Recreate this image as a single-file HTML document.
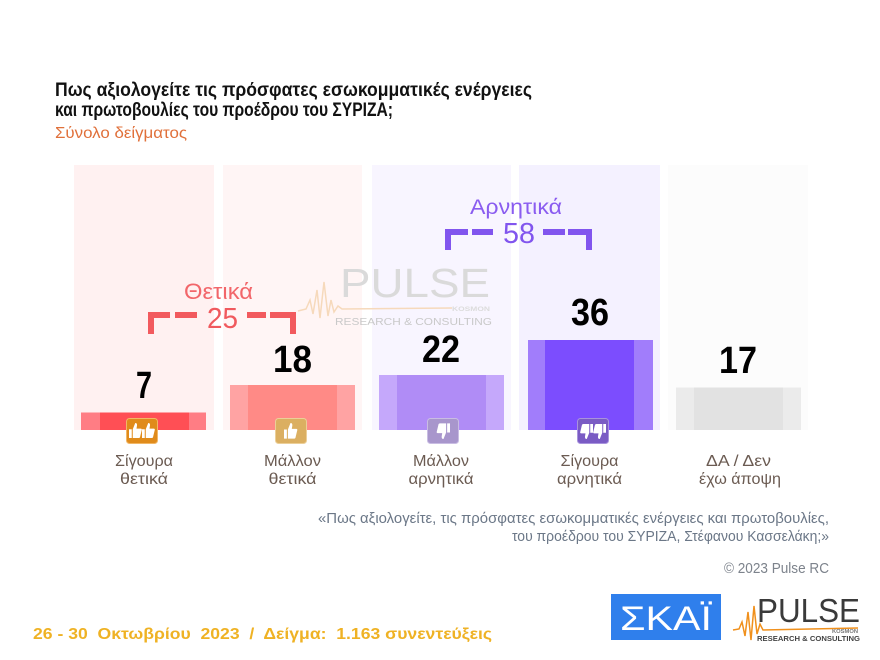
<!DOCTYPE html>
<html><head><meta charset="utf-8"><style>
html,body{margin:0;padding:0;background:#fff;}
svg{display:block;}
</style></head><body>
<svg width="880" height="660" viewBox="0 0 880 660" xmlns="http://www.w3.org/2000/svg" font-family="'Liberation Sans', 'Noto Sans CJK SC', sans-serif">
<rect width="880" height="660" fill="#ffffff"/>

<!-- Title -->
<text x="55" y="96" font-size="19" font-weight="bold" fill="#111" textLength="477" lengthAdjust="spacingAndGlyphs">Πως αξιολογείτε τις πρόσφατες εσωκομματικές ενέργειες</text>
<text x="55" y="116" font-size="19" font-weight="bold" fill="#111" textLength="338" lengthAdjust="spacingAndGlyphs">και πρωτοβουλίες του προέδρου του ΣΥΡΙΖΑ;</text>
<text x="55" y="138" font-size="16" fill="#e0703a" textLength="132" lengthAdjust="spacingAndGlyphs">Σύνολο δείγματος</text>

<!-- Panels -->
<rect x="74" y="165" width="140" height="265" fill="#fff1f1"/>
<rect x="223" y="165" width="139" height="265" fill="#fff5f5"/>
<rect x="372" y="165" width="139" height="265" fill="#f8f5ff"/>
<rect x="519" y="165" width="141" height="265" fill="#f4f1ff"/>
<rect x="668" y="165" width="140" height="265" fill="#fcfcfc"/>

<!-- Watermark -->
<polyline points="298,311 306,309 310,300 313,314 317,290 320,318 324,282 328,316 331,300 334,312 338,306 342,309 452,308" fill="none" stroke="#f6d9bb" stroke-width="1.5"/>
<text x="340" y="297" font-size="41" fill="#dadada" textLength="150" lengthAdjust="spacingAndGlyphs">PULSE</text>
<text x="452" y="311" font-size="6.5" font-weight="bold" fill="#dcdcdc" textLength="38" lengthAdjust="spacingAndGlyphs">KOSMON</text>
<text x="335" y="325" font-size="10" fill="#c9c9c9" textLength="157" lengthAdjust="spacingAndGlyphs">RESEARCH &amp; CONSULTING</text>

<!-- Bars -->
<rect x="81" y="412.5" width="125" height="17.5" fill="#ff7d84"/>
<rect x="100" y="412.5" width="89" height="17.5" fill="#ff4f55"/>

<rect x="230" y="385" width="125" height="45" fill="#ffa3a3"/>
<rect x="248" y="385" width="89" height="45" fill="#ff8a86"/>

<rect x="379" y="375" width="125" height="55" fill="#c5a8fb"/>
<rect x="397" y="375" width="89" height="55" fill="#b08cf6"/>

<rect x="528" y="340" width="125" height="90" fill="#a17dfb"/>
<rect x="545" y="340" width="89" height="90" fill="#7c4dfe"/>

<rect x="676" y="387.5" width="125" height="42.5" fill="#ebebeb"/>
<rect x="694" y="387.5" width="89" height="42.5" fill="#e2e2e2"/>

<!-- Values -->
<g font-size="38" font-weight="bold" fill="#000" text-anchor="middle">
<text x="144" y="398" textLength="16" lengthAdjust="spacingAndGlyphs">7</text>
<text x="292.5" y="372" textLength="39" lengthAdjust="spacingAndGlyphs">18</text>
<text x="441" y="362" textLength="38" lengthAdjust="spacingAndGlyphs">22</text>
<text x="590" y="325" textLength="38" lengthAdjust="spacingAndGlyphs">36</text>
<text x="738" y="373" textLength="38" lengthAdjust="spacingAndGlyphs">17</text>
</g>

<!-- Positive bracket -->
<g fill="#f25a5e">
<rect x="148" y="312" width="6" height="22"/>
<rect x="148" y="312" width="22" height="6"/>
<rect x="175" y="312" width="22" height="6"/>
<rect x="247" y="312" width="19" height="6"/>
<rect x="270" y="312" width="26" height="6"/>
<rect x="290" y="312" width="6" height="22"/>
</g>
<text x="218.5" y="299" font-size="22" fill="#f2666a" text-anchor="middle" textLength="69" lengthAdjust="spacingAndGlyphs">Θετικά</text>
<text x="222.5" y="328" font-size="29" fill="#f05a5e" text-anchor="middle" textLength="31" lengthAdjust="spacingAndGlyphs">25</text>

<!-- Negative bracket -->
<g fill="#8155ee">
<rect x="445" y="229" width="6" height="21"/>
<rect x="445" y="229" width="23" height="6"/>
<rect x="472" y="229" width="21" height="6"/>
<rect x="543" y="229" width="22" height="6"/>
<rect x="568" y="229" width="24" height="6"/>
<rect x="586" y="229" width="6" height="21"/>
</g>
<text x="516" y="214" font-size="21" fill="#8a5cf0" text-anchor="middle" textLength="92" lengthAdjust="spacingAndGlyphs">Αρνητικά</text>
<text x="519" y="243" font-size="29" fill="#8155ee" text-anchor="middle" textLength="32" lengthAdjust="spacingAndGlyphs">58</text>

<!-- Icons -->
<defs>
<path id="tu" d="M0,5 h2.2 v7 h-2.2 z M3,5 L5,0 Q6.6,0 6.4,2 L6,4.5 H9.6 Q10.6,4.8 10.1,6 L8.8,11.4 Q8.5,12 7.8,12 H3 Z" fill="#fff"/>
</defs>
<rect x="126.5" y="418.5" width="31" height="25" rx="3" fill="#e08b1b" stroke="#f2b766" stroke-width="1"/>
<use href="#tu" transform="translate(129,423) scale(1.25)"/>
<use href="#tu" transform="translate(142,423) scale(1.25)"/>

<rect x="275.5" y="418.5" width="31" height="25" rx="3" fill="#dbaf61" stroke="#eccf98" stroke-width="1"/>
<use href="#tu" transform="translate(284,423) scale(1.3)"/>

<rect x="427.5" y="418.5" width="31" height="25" rx="3" fill="#a896cc" stroke="#c9bde3" stroke-width="1"/>
<use href="#tu" transform="translate(450,439) scale(-1.3,-1.3)"/>

<rect x="577.5" y="418.5" width="31" height="25" rx="3" fill="#7a5bc4" stroke="#a893dd" stroke-width="1"/>
<use href="#tu" transform="translate(593,439) scale(-1.25,-1.25)"/>
<use href="#tu" transform="translate(606,439) scale(-1.25,-1.25)"/>

<!-- Category labels -->
<g font-size="16" fill="#6b5b52" text-anchor="middle">
<text x="144" y="466" textLength="58" lengthAdjust="spacingAndGlyphs">Σίγουρα</text>
<text x="144" y="484" textLength="48" lengthAdjust="spacingAndGlyphs">θετικά</text>
<text x="292.5" y="466" textLength="57" lengthAdjust="spacingAndGlyphs">Μάλλον</text>
<text x="292.5" y="484" textLength="48" lengthAdjust="spacingAndGlyphs">θετικά</text>
<text x="441" y="466" textLength="56" lengthAdjust="spacingAndGlyphs">Μάλλον</text>
<text x="441" y="484" textLength="65" lengthAdjust="spacingAndGlyphs">αρνητικά</text>
<text x="589.5" y="466" textLength="58" lengthAdjust="spacingAndGlyphs">Σίγουρα</text>
<text x="589.5" y="484" textLength="65" lengthAdjust="spacingAndGlyphs">αρνητικά</text>
<text x="738.5" y="466" textLength="65" lengthAdjust="spacingAndGlyphs">ΔΑ / Δεν</text>
<text x="740" y="484" textLength="82" lengthAdjust="spacingAndGlyphs">έχω άποψη</text>
</g>

<!-- Footnote -->
<text x="829" y="523" font-size="14.5" fill="#6b7787" text-anchor="end" textLength="511" lengthAdjust="spacingAndGlyphs">«Πως αξιολογείτε, τις πρόσφατες εσωκομματικές ενέργειες και πρωτοβουλίες,</text>
<text x="829" y="541" font-size="14.5" fill="#6b7787" text-anchor="end" textLength="317" lengthAdjust="spacingAndGlyphs">του προέδρου του ΣΥΡΙΖΑ, Στέφανου Κασσελάκη;»</text>
<text x="829" y="573" font-size="14.5" fill="#7d838c" text-anchor="end" textLength="105" lengthAdjust="spacingAndGlyphs">© 2023 Pulse RC</text>

<!-- Date -->
<text x="33" y="639" font-size="16" font-weight="bold" fill="#efb224" textLength="459" lengthAdjust="spacingAndGlyphs" style="white-space:pre">26 - 30  Οκτωβρίου  2023  /  Δείγμα:  1.163 συνεντεύξεις</text>

<!-- SKAI logo -->
<rect x="611" y="594" width="110" height="46" fill="#2f7fec"/>
<text x="666" y="630" font-size="34" fill="#ffffff" text-anchor="middle" textLength="92" lengthAdjust="spacingAndGlyphs">ΣΚΑΪ</text>

<!-- PULSE logo -->
<polyline points="733,630 739,629 742,622 745,636 748,612 751,640 754,606 757,634 760,624 763,630 858,628" fill="none" stroke="#f0901c" stroke-width="1.5"/>
<text x="757" y="622" font-size="33" fill="#3a3a3a" textLength="103" lengthAdjust="spacingAndGlyphs">PULSE</text>
<text x="832" y="633" font-size="5" font-weight="bold" fill="#777" textLength="26" lengthAdjust="spacingAndGlyphs">KOSMON</text>
<text x="757" y="641" font-size="7.5" font-weight="bold" fill="#444" textLength="103" lengthAdjust="spacingAndGlyphs">RESEARCH &amp; CONSULTING</text>
</svg>
</body></html>
